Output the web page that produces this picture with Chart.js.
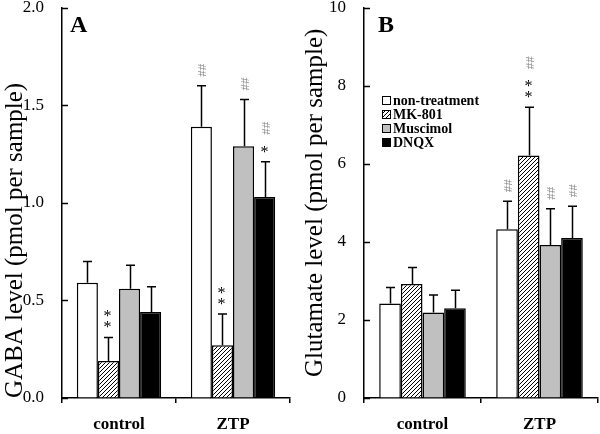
<!DOCTYPE html>
<html>
<head>
<meta charset="utf-8">
<script src="https://cdn.jsdelivr.net/npm/chart.js@4.4.0/dist/chart.umd.min.js"></script>
<style>
  html, body { margin: 0; padding: 0; background: #fff; }
  #wrap { position: relative; width: 600px; height: 434px; }
  .panel { position: absolute; top: 0; width: 300px; height: 434px; }
</style>
</head>
<body>
<div id="wrap">
  <div class="panel" style="left:0"><canvas id="gabaChart" width="300" height="434"></canvas></div>
  <div class="panel" style="left:300px"><canvas id="glutChart" width="300" height="434"></canvas></div>
</div>
<script>
// Data
const groups = ['control', 'ZTP'];
const treatments = ['non-treatment', 'MK-801', 'Muscimol', 'DNQX'];

// GABA (pmol per sample), [control, ZTP]
const gabaNonTreat = [0.59, 1.39];
const gabaMK801 = [0.19, 0.27];
const gabaMuscimol = [0.56, 1.29];
const gabaDNQX = [0.44, 1.03];
const gabaNonTreatErr = [0.11, 0.21];
const gabaMK801Err = [0.12, 0.16];
const gabaMuscimolErr = [0.12, 0.24];
const gabaDNQXErr = [0.13, 0.18];

// Glutamate (pmol per sample), [control, ZTP]
const glutNonTreat = [2.42, 4.32];
const glutMK801 = [2.92, 6.21];
const glutMuscimol = [2.19, 3.92];
const glutDNQX = [2.30, 4.10];
const glutNonTreatErr = [0.41, 0.72];
const glutMK801Err = [0.42, 1.24];
const glutMuscimolErr = [0.45, 0.93];
const glutDNQXErr = [0.46, 0.81];

// significance marks per treatment, per group (drawn bottom to top)
const gabaSig = [[[], ['##']], [['**'], ['**']], [[], ['##']], [[], ['*', '##']]];
const glutSig = [[[], ['##']], [[], ['**', '##']], [[], ['##']], [[], ['##']]];

const gabaTicks = [0, 0.5, 1.0, 1.5, 2.0];
const glutTicks = [0, 2, 4, 6, 8, 10];

const SERIF = '"Liberation Serif", "Times New Roman", serif';

// hatch pattern for MK-801
function makeHatch() {
    const c = document.createElement('canvas');
    c.width = 4; c.height = 4;
    const g = c.getContext('2d');
    g.fillStyle = '#fff';
    g.fillRect(0, 0, 4, 4);
    g.strokeStyle = '#000';
    g.lineWidth = 1;
    g.beginPath();
    g.moveTo(-1, 5); g.lineTo(5, -1);
    g.moveTo(-1, 1); g.lineTo(1, -1);
    g.moveTo(3, 5); g.lineTo(5, 3);
    g.stroke();
    return g.createPattern(c, 'repeat');
}
const hatch = makeHatch();
const fills = ['#ffffff', hatch, '#c0c0c0', '#000000'];

// error bars, inward ticks, marks, panel letter, legend
const extrasPlugin = {
    id: 'extras',
    afterDatasetsDraw(chart, args, opts) {
        const ctx = chart.ctx;
        const y = chart.scales.y;
        const area = chart.chartArea;
        ctx.save();
        ctx.strokeStyle = '#000';
        ctx.lineWidth = 1.5;
        y.ticks.forEach(t => {
            const py = Math.round(y.getPixelForValue(t.value)) + 0.5;
            ctx.beginPath();
            ctx.moveTo(area.left, py);
            ctx.lineTo(area.left + 6, py);
            ctx.stroke();
        });

        chart.data.datasets.forEach((ds, di) => {
            const meta = chart.getDatasetMeta(di);
            meta.data.forEach((bar, gi) => {
                const top = y.getPixelForValue(ds.data[gi] + opts.errors[di][gi]);
                const x = Math.round(bar.x) + 0.5;
                ctx.strokeStyle = '#000';
                ctx.lineWidth = 1.5;
                ctx.beginPath();
                ctx.moveTo(x, bar.y);
                ctx.lineTo(x, top);
                ctx.moveTo(x - 4.5, top);
                ctx.lineTo(x + 4.5, top);
                ctx.stroke();

                let cursor = top - 9;
                opts.marks[di][gi].forEach(tok => {
                    if (tok === '##') {
                        ctx.save();
                        ctx.translate(x, cursor);
                        ctx.rotate(-Math.PI / 2);
                        ctx.font = '13px ' + SERIF;
                        ctx.fillStyle = '#8c8c8c';
                        ctx.textAlign = 'left';
                        ctx.textBaseline = 'middle';
                        ctx.fillText('##', 0, 1);
                        ctx.restore();
                        cursor -= 18;
                    } else {
                        ctx.font = '16px ' + SERIF;
                        ctx.fillStyle = '#000';
                        ctx.textAlign = 'center';
                        ctx.textBaseline = 'alphabetic';
                        const m = ctx.measureText('*');
                        const h = m.actualBoundingBoxAscent + m.actualBoundingBoxDescent;
                        for (let k = 0; k < tok.length; k++) {
                            const cy = cursor - h / 2;
                            ctx.fillText('*', x - 1, cy + (m.actualBoundingBoxAscent - m.actualBoundingBoxDescent) / 2);
                            cursor -= h + 4;
                        }
                        cursor -= 7;
                    }
                });
            });
        });

        // panel letter
        ctx.font = 'bold 24px ' + SERIF;
        ctx.fillStyle = '#000';
        ctx.textAlign = 'left';
        ctx.textBaseline = 'alphabetic';
        ctx.fillText(opts.letter, area.left + opts.letterDx, 32);

        // legend
        if (opts.legend) {
            ctx.font = 'bold 14px ' + SERIF;
            ctx.textBaseline = 'middle';
            chart.data.datasets.forEach((ds, i) => {
                const cy = 100 + i * 14;
                const bx = area.left + 18;
                ctx.fillStyle = ds.backgroundColor;
                ctx.fillRect(bx, cy - 4, 8, 8);
                ctx.strokeStyle = '#000';
                ctx.lineWidth = 1;
                ctx.strokeRect(bx + 0.5, cy - 3.5, 8, 8);
                ctx.fillStyle = '#000';
                ctx.fillText(ds.label, bx + 11, cy + 1);
            });
        }
        ctx.restore();
    }
};

function makeDatasets(series) {
    return series.map((data, i) => ({
        label: treatments[i],
        data: data,
        backgroundColor: fills[i],
        borderColor: '#000',
        borderWidth: 1.5,
        categoryPercentage: 0.74,
        barPercentage: 1.0
    }));
}

function makeChart(id, series, errors, marks, ticks, title, titleAlign, yWidth, padRight, letter, letterDx, legend, fmt) {
    const ctx = document.getElementById(id).getContext('2d');
    return new Chart(ctx, {
        type: 'bar',
        data: { labels: groups, datasets: makeDatasets(series) },
        options: {
            responsive: false,
            animation: false,
            layout: { padding: { top: 0, right: padRight, bottom: 0, left: 0 } },
            plugins: {
                legend: { display: false },
                tooltip: { enabled: false },
                extras: { errors: errors, marks: marks, letter: letter, letterDx: letterDx, legend: legend }
            },
            scales: {
                x: {
                    grid: { offset: true, drawOnChartArea: false, tickLength: 5, color: '#000', lineWidth: 1.5 },
                    border: { color: '#000', width: 1.5 },
                    ticks: { color: '#000', padding: 11, font: { family: SERIF, size: 17, weight: 'bold' } },
                    afterFit: s => { s.height = 36; }
                },
                y: {
                    min: ticks[0],
                    max: ticks[ticks.length - 1],
                    afterBuildTicks: s => { s.ticks = ticks.map(v => ({ value: v })); },
                    grid: { drawOnChartArea: false, drawTicks: true, tickLength: 18, tickColor: 'rgba(0,0,0,0)' },
                    border: { color: '#000', width: 1.5 },
                    ticks: { color: '#000', padding: 0, font: { family: SERIF, size: 17, lineHeight: 0.9 }, callback: fmt },
                    title: { display: true, text: title, align: titleAlign, color: '#000', padding: { top: 0, bottom: 0 }, font: { family: SERIF, size: 25 } },
                    afterFit: s => { s.width = yWidth; }
                }
            }
        },
        plugins: [extrasPlugin]
    });
}

makeChart('gabaChart',
    [gabaNonTreat, gabaMK801, gabaMuscimol, gabaDNQX],
    [gabaNonTreatErr, gabaMK801Err, gabaMuscimolErr, gabaDNQXErr],
    gabaSig, gabaTicks, 'GABA level (pmol per sample)', 'start', 62, 10, 'A', 8, false,
    v => Number(v).toFixed(1));

makeChart('glutChart',
    [glutNonTreat, glutMK801, glutMuscimol, glutDNQX],
    [glutNonTreatErr, glutMK801Err, glutMuscimolErr, glutDNQXErr],
    glutSig, glutTicks, 'Glutamate level (pmol per sample)', 'center', 64, 2, 'B', 14, true,
    v => String(v));
</script>
</body>
</html>
